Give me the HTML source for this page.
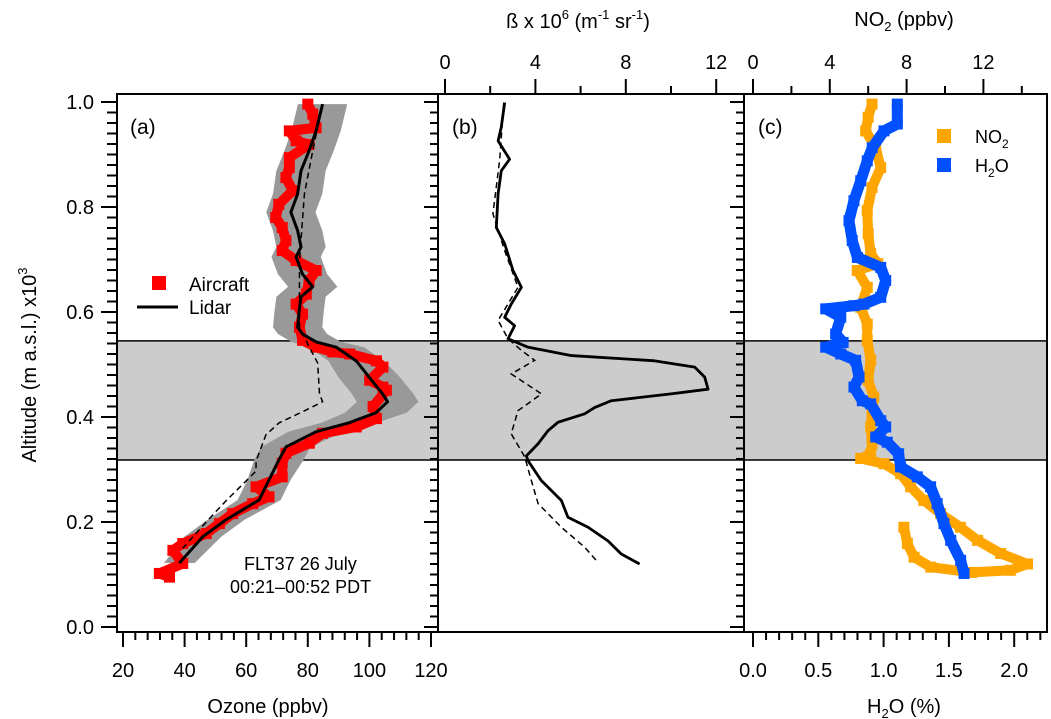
<!DOCTYPE html>
<html><head><meta charset="utf-8">
<style>
html,body{margin:0;padding:0;background:#fff;}
svg{display:block;font-family:"Liberation Sans",Arial,sans-serif;}
</style></head>
<body>
<svg id="chart" width="1051" height="719" viewBox="0 0 1051 719" xmlns="http://www.w3.org/2000/svg">
<g id="bands"></g>
<g id="marks"></g>
<g id="axes"></g>
<g id="labels"></g>
</svg>
<script>
// ---------- data ----------
const lidarAlt = [0.996,0.945,0.907,0.869,0.825,0.79,0.755,0.724,0.705,0.672,0.648,0.629,0.602,0.571,0.558,0.543,0.533,0.507,0.476,0.444,0.429,0.408,0.389,0.372,0.343,0.318,0.28,0.242,0.204,0.172,0.122];
const lidarO3 = [84.8,82.7,80.4,77.8,76.7,74.5,76.7,77.8,76.2,78.3,81.6,77.8,77.2,76.7,78.3,82.7,89.2,95.7,99.9,104.3,105.9,102.1,93.4,82.7,72.9,70.6,67.4,64.2,53.4,45.9,38.3];
const lidarUnc = [8,8,8,8,8,8,8,8,8,8,8,8,8,8,8,8,9,9,10,10,10,10,9,9,8,8,7,7,6,6,5];
const lidar2Alt = [0.996,0.907,0.825,0.698,0.571,0.533,0.503,0.444,0.429,0.41,0.389,0.366,0.316,0.297,0.24,0.2,0.15];
const lidar2O3 = [84.8,81.6,78.9,77.3,77.3,80.5,83.2,83.8,84.8,78.3,70.7,66.4,63.2,63.2,53.4,47.0,39.4];
const acAlt = [0.996,0.977,0.951,0.945,0.926,0.919,0.894,0.875,0.856,0.831,0.805,0.78,0.761,0.736,0.717,0.698,0.679,0.66,0.634,0.615,0.596,0.571,0.546,0.533,0.524,0.52,0.507,0.495,0.47,0.457,0.451,0.42,0.397,0.381,0.369,0.35,0.331,0.312,0.286,0.267,0.248,0.235,0.216,0.197,0.178,0.159,0.146,0.121,0.102,0.095];
const acO3 = [80.0,81.6,82.7,74.0,76.2,80.4,74.0,74.0,72.9,75.1,70.6,69.6,71.7,72.9,71.7,76.2,82.7,80.4,79.5,76.2,78.3,77.3,78.3,82.7,88.1,93.6,102.3,104.4,100.1,104.4,105.5,101.2,102.3,95.7,84.8,80.5,72.9,71.7,71.7,63.2,67.4,62.1,55.6,51.3,47.0,39.4,36.2,39.4,31.8,35.1];
const betaAlt = [0.999,0.952,0.926,0.891,0.869,0.825,0.761,0.73,0.679,0.647,0.615,0.59,0.574,0.549,0.533,0.517,0.507,0.495,0.476,0.453,0.444,0.431,0.418,0.406,0.39,0.374,0.349,0.326,0.317,0.279,0.241,0.209,0.19,0.164,0.139,0.12];
const betaVal = [2.64,2.49,2.35,2.86,2.49,2.35,2.27,2.64,3.01,3.38,2.93,2.64,3.08,2.79,3.67,5.59,9.28,11.05,11.49,11.64,10.0,7.36,6.62,6.18,5.0,4.56,4.12,3.6,3.67,4.26,5.15,5.44,6.33,7.21,7.8,8.61];
const beta2Alt = [0.999,0.89,0.787,0.717,0.647,0.584,0.549,0.527,0.508,0.482,0.444,0.412,0.368,0.324,0.279,0.235,0.19,0.152,0.123];
const beta2Val = [2.6,2.42,2.12,2.64,3.23,2.35,2.79,3.38,3.97,2.93,4.27,3.23,2.93,3.53,3.82,4.12,5.15,6.18,6.77];
const no2Alt = [0.996,0.971,0.945,0.913,0.875,0.837,0.793,0.749,0.711,0.692,0.679,0.647,0.609,0.577,0.546,0.508,0.47,0.438,0.406,0.381,0.349,0.33,0.321,0.311,0.292,0.267,0.241,0.216,0.19,0.165,0.14,0.12,0.108,0.104,0.114,0.133,0.159,0.19];
const no2Val = [6.2,6.0,5.87,6.39,6.65,6.2,5.95,6.0,6.13,6.5,5.43,5.95,5.61,5.95,5.95,6.13,6.0,6.29,6.2,6.13,6.2,6.13,5.61,6.82,7.69,8.21,8.9,9.77,10.8,11.7,12.9,14.3,13.4,11.4,9.26,8.39,8.04,7.86];
const h2oAlt = [0.996,0.958,0.945,0.913,0.888,0.85,0.812,0.774,0.736,0.704,0.685,0.66,0.628,0.615,0.612,0.606,0.59,0.558,0.542,0.533,0.52,0.508,0.476,0.457,0.431,0.425,0.393,0.381,0.362,0.352,0.33,0.305,0.286,0.267,0.235,0.197,0.165,0.127,0.102];
const h2oVal = [1.105,1.105,1.003,0.913,0.875,0.825,0.773,0.735,0.76,0.799,0.978,1.016,0.978,0.85,0.773,0.557,0.672,0.633,0.69,0.557,0.672,0.786,0.812,0.773,0.837,0.901,0.978,1.016,0.94,1.028,1.115,1.13,1.258,1.36,1.41,1.462,1.514,1.59,1.616];
const altTicks = [0.0,0.2,0.4,0.6,0.8,1.0];
const altTickLabels = ["0.0","0.2","0.4","0.6","0.8","1.0"];
const o3Ticks = [20,40,60,80,100,120];
const betaTicks = [0,4,8,12];
const no2Ticks = [0,4,8,12];
const h2oTicks = [0.0,0.5,1.0,1.5,2.0];
const h2oTickLabels = ["0.0","0.5","1.0","1.5","2.0"];
const bandTop = 0.545, bandBottom = 0.318;

// ---------- scales ----------
const yA = a => 627 - a*525;
const xO3 = o => 123 + (o-20)*3.08;
const xB = v => 445 + v*22.6;
const xN = v => 753 + v*19.2;
const xH = v => 753 + v*130.6;
const NS = "http://www.w3.org/2000/svg";
function mk(tag, attrs, parent, txt){
  const e = document.createElementNS(NS, tag);
  for (const k in attrs) e.setAttribute(k, attrs[k]);
  if (txt !== undefined) e.textContent = txt;
  parent.appendChild(e);
  return e;
}
const bands = document.getElementById('bands');
const marks = document.getElementById('marks');
const axes = document.getElementById('axes');
const labels = document.getElementById('labels');
const L=117, AB=438, BC=744, R=1047, T=94, B=632;

let bd = mk('rect',{x:L,y:yA(bandTop),width:R-L,height:yA(bandBottom)-yA(bandTop),fill:'#cccccc'},bands);


[bandTop,bandBottom].forEach(a=>{
  const l = mk('line',{x1:L,x2:R,y1:yA(a),y2:yA(a),stroke:'#000','stroke-width':1.5},bands);
  
  
});

let envPts = [];
for (let i=0;i<lidarAlt.length;i++) envPts.push(xO3(lidarO3[i]-lidarUnc[i])+','+yA(lidarAlt[i]));
for (let i=lidarAlt.length-1;i>=0;i--) envPts.push(xO3(lidarO3[i]+lidarUnc[i])+','+yA(lidarAlt[i]));
const env = mk('polygon',{points:envPts.join(' '),fill:'#999999'},marks);



function poly(xs, ys, fx, attrs, name){
  const pts = xs.map((v,i)=>fx(v)+','+yA(ys[i])).join(' ');
  const p = mk('polyline', Object.assign({points:pts,fill:'none'},attrs), marks);
  
  
  return p;
}
function squares(xs, ys, fx, color, size, name){
  const g = mk('g',{},marks);
  
  
  xs.forEach((v,i)=>{
    const r = mk('rect',{x:fx(v)-size/2,y:yA(ys[i])-size/2,width:size,height:size,fill:color},g);
    
    
  });
}
poly(acO3, acAlt, xO3, {stroke:'#ff0000','stroke-width':10,'stroke-linejoin':'round'}, 'aircraft-ozone-trace');
squares(acO3, acAlt, xO3, '#ff0000', 11, 'aircraft-ozone');
poly(lidar2O3, lidar2Alt, xO3, {stroke:'#000','stroke-width':1.5,'stroke-dasharray':'6,4'}, 'lidar-ozone-dashed');
poly(lidarO3, lidarAlt, xO3, {stroke:'#000','stroke-width':3,'stroke-linejoin':'round'}, 'lidar-ozone-line');
poly(beta2Val, beta2Alt, xB, {stroke:'#000','stroke-width':1.5,'stroke-dasharray':'6,4'}, 'backscatter-dashed');
poly(betaVal, betaAlt, xB, {stroke:'#000','stroke-width':2.8,'stroke-linejoin':'round'}, 'backscatter-line');
poly(no2Val, no2Alt, xN, {stroke:'#ffa500','stroke-width':10,'stroke-linejoin':'round'}, 'no2-trace');
squares(no2Val, no2Alt, xN, '#ffa500', 11, 'no2');
poly(h2oVal, h2oAlt, xH, {stroke:'#0050ff','stroke-width':11,'stroke-linejoin':'round'}, 'h2o-trace');
squares(h2oVal, h2oAlt, xH, '#0050ff', 11, 'h2o');

[[L,AB,'panel-a-frame'],[AB,BC,'panel-b-frame'],[BC,R,'panel-c-frame']].forEach(f=>{
  const r = mk('rect',{x:f[0],y:T,width:f[1]-f[0],height:B-T,fill:'none',stroke:'#000','stroke-width':2},axes);
  
  
});
function ln(x1,y1,x2,y2,w){ const l=mk('line',{x1,y1,x2,y2,stroke:'#000','stroke-width':w||2},axes);   }
for (let k=0;k<=50;k++){
  const a=k*0.02, y=yA(a), major=(k%10===0);
  ln(L-(major?16:10),y,L,y);
  ln(AB-(major?14:8),y,AB,y);
  ln(BC-(major?14:8),y,BC,y);
}
for (let o=20;o<=120;o+=4){ const major=(o%20===0); ln(xO3(o),B,xO3(o),B+(major?15:8)); }
for (let v=0;v<=12;v+=2){ const major=(v%4===0); ln(xB(v),T,xB(v),T-(major?15:8)); }
for (let v=0;v<=14;v+=2){ const major=(v%4===0); ln(xN(v),T,xN(v),T-(major?15:8)); }
for (let k=0;k<=22;k++){ const major=(k%5===0); ln(xH(k*0.1),B,xH(k*0.1),B+(major?15:8)); }

function txt(x,y,s,name,attrs){
  const t = mk('text',Object.assign({x,y,'font-size':20,fill:'#000'},attrs||{}),labels,s);
  
  
  return t;
}
altTicks.forEach((a,i)=>txt(94,yA(a)+7,altTickLabels[i],'altitude-tick-label',{'text-anchor':'end'}));
o3Ticks.forEach(o=>txt(xO3(o),677,String(o),'ozone-tick-label',{'text-anchor':'middle'}));
betaTicks.forEach(v=>txt(xB(v),69,String(v),'beta-tick-label',{'text-anchor':'middle'}));
no2Ticks.forEach(v=>txt(xN(v),69,String(v),'no2-tick-label',{'text-anchor':'middle'}));
h2oTicks.forEach((v,i)=>txt(xH(v),677,h2oTickLabels[i],'h2o-tick-label',{'text-anchor':'middle'}));
</script>
<div style="position:absolute;left:0;top:0;width:1051px;height:719px;pointer-events:none;">
<svg width="1051" height="719" style="position:absolute;left:0;top:0;font-family:'Liberation Sans',Arial,sans-serif;" xmlns="http://www.w3.org/2000/svg">
<text x="36" y="365" font-size="20" text-anchor="middle" transform="rotate(-90 36 365)">Altitude (m a.s.l.) x10<tspan dy="-9" font-size="13">3</tspan></text>
<text x="268" y="713" font-size="20" text-anchor="middle">Ozone (ppbv)</text>
<text x="904" y="713" font-size="20" text-anchor="middle">H<tspan dy="5" font-size="13">2</tspan><tspan dy="-5">O (%)</tspan></text>
<text x="578" y="28" font-size="20" text-anchor="middle">ß x 10<tspan dy="-9" font-size="13">6</tspan><tspan dy="9"> (m</tspan><tspan dy="-9" font-size="13">-1</tspan><tspan dy="9">  sr</tspan><tspan dy="-9" font-size="13">-1</tspan><tspan dy="9">)</tspan></text>
<text x="904" y="26" font-size="20" text-anchor="middle">NO<tspan dy="5" font-size="13">2</tspan><tspan dy="-5"> (ppbv)</tspan></text>
<text x="130" y="134" font-size="21">(a)</text>
<text x="452" y="134" font-size="21">(b)</text>
<text x="758" y="134" font-size="21">(c)</text>
<rect x="152" y="276" width="14" height="14" fill="#ff0000"/>
<text x="189" y="291" font-size="19">Aircraft</text>
<line x1="137" y1="307" x2="178" y2="307" stroke="#000" stroke-width="3"/>
<text x="189" y="314" font-size="19">Lidar</text>
<text x="244" y="570" font-size="18">FLT37  26 July</text>
<text x="230" y="593" font-size="18">00:21–00:52 PDT</text>
<rect x="937" y="129" width="14" height="14" fill="#ffa500"/>
<text x="975" y="143" font-size="18">NO<tspan dy="5" font-size="12">2</tspan></text>
<rect x="937" y="158" width="14" height="14" fill="#0050ff"/>
<text x="975" y="172" font-size="18">H<tspan dy="5" font-size="12">2</tspan><tspan dy="-5">O</tspan></text>
</svg>
</div>
</body></html>
